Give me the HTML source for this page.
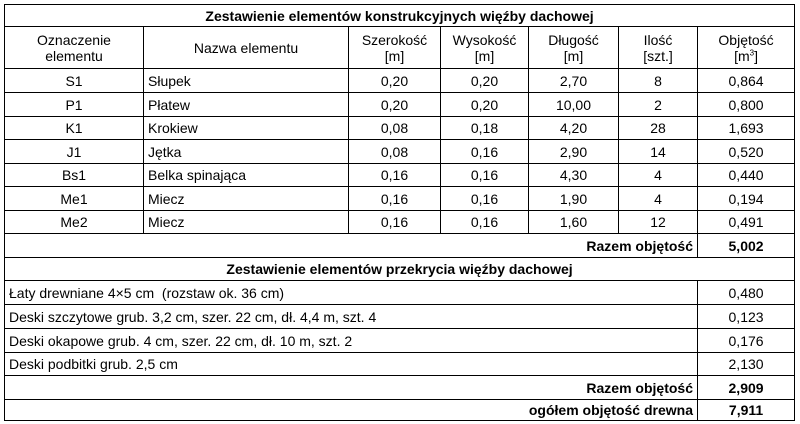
<!DOCTYPE html>
<html><head><meta charset="utf-8"><style>
html,body{margin:0;padding:0;background:#fff;width:800px;height:424px;overflow:hidden}
table{position:absolute;left:4px;top:4px;border-collapse:collapse;table-layout:fixed;width:790px;font-family:"Liberation Sans",sans-serif;font-size:14px;color:#000}
td{border:1.5px solid #000;padding:0 4px;text-align:center;white-space:nowrap;overflow:hidden;line-height:16px}
td.l{text-align:left}
td.r{text-align:right}
.b{font-weight:bold}
sup{font-size:8px;line-height:0}
</style></head><body>
<table>
<colgroup><col style="width:139px"><col style="width:205px"><col style="width:92px"><col style="width:88px"><col style="width:90px"><col style="width:79px"><col style="width:97px"></colgroup>
<tr style="height:22px"><td colspan="7" class="b">Zestawienie elementów konstrukcyjnych więźby dachowej</td></tr>
<tr style="height:42px"><td>Oznaczenie<br>elementu</td><td>Nazwa elementu</td><td>Szerokość<br>[m]</td><td>Wysokość<br>[m]</td><td>Długość<br>[m]</td><td>Ilość<br>[szt.]</td><td>Objętość<br>[m<sup>3</sup>]</td></tr>
<tr style="height:24px"><td>S1</td><td class="l">Słupek</td><td>0,20</td><td>0,20</td><td>2,70</td><td>8</td><td>0,864</td></tr>
<tr style="height:24px"><td>P1</td><td class="l">Płatew</td><td>0,20</td><td>0,20</td><td>10,00</td><td>2</td><td>0,800</td></tr>
<tr style="height:23px"><td>K1</td><td class="l">Krokiew</td><td>0,08</td><td>0,18</td><td>4,20</td><td>28</td><td>1,693</td></tr>
<tr style="height:24px"><td>J1</td><td class="l">Jętka</td><td>0,08</td><td>0,16</td><td>2,90</td><td>14</td><td>0,520</td></tr>
<tr style="height:23px"><td>Bs1</td><td class="l">Belka spinająca</td><td>0,16</td><td>0,16</td><td>4,30</td><td>4</td><td>0,440</td></tr>
<tr style="height:24px"><td>Me1</td><td class="l">Miecz</td><td>0,16</td><td>0,16</td><td>1,90</td><td>4</td><td>0,194</td></tr>
<tr style="height:23px"><td>Me2</td><td class="l">Miecz</td><td>0,16</td><td>0,16</td><td>1,60</td><td>12</td><td>0,491</td></tr>
<tr style="height:24px"><td colspan="6" class="r b">Razem objętość</td><td class="b">5,002</td></tr>
<tr style="height:23px"><td colspan="7" class="b">Zestawienie elementów przekrycia więźby dachowej</td></tr>
<tr style="height:24px"><td colspan="6" class="l">Łaty drewniane 4×5 cm&nbsp; (rozstaw ok. 36 cm)</td><td>0,480</td></tr>
<tr style="height:24px"><td colspan="6" class="l">Deski szczytowe grub. 3,2 cm, szer. 22 cm, dł. 4,4 m, szt. 4</td><td>0,123</td></tr>
<tr style="height:24px"><td colspan="6" class="l">Deski okapowe grub. 4 cm, szer. 22 cm, dł. 10 m, szt. 2</td><td>0,176</td></tr>
<tr style="height:23px"><td colspan="6" class="l">Deski podbitki grub. 2,5 cm</td><td>2,130</td></tr>
<tr style="height:24px"><td colspan="6" class="r b">Razem objętość</td><td class="b">2,909</td></tr>
<tr style="height:21px"><td colspan="6" class="r b">ogółem objętość drewna</td><td class="b">7,911</td></tr>
</table>
</body></html>
